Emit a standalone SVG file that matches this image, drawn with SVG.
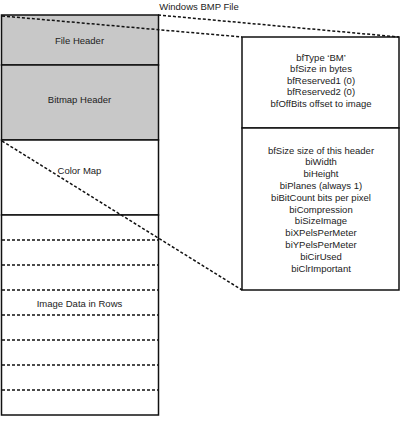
<svg xmlns="http://www.w3.org/2000/svg" width="401" height="429" viewBox="0 0 401 429">
<style>
text{font-family:"Liberation Sans",Arial,sans-serif;font-size:9.5px;fill:#222;text-anchor:middle}
.box{stroke:#111;stroke-width:1.5;fill:#fff}
.gray{fill:#c8c8c8}
.row{stroke:#111;stroke-width:1.5;stroke-dasharray:3,2}
.conn{stroke:#111;stroke-width:1.5;stroke-dasharray:3,2;fill:none}
</style>
<rect width="401" height="429" fill="#fff"/>
<g id="title"><text x="199" y="9.5">Windows BMP File</text></g>
<g id="file-header">
<rect class="box gray" x="1.5" y="15" width="157" height="50"/>
<text x="79.5" y="43.5">File Header</text>
</g>
<g id="bitmap-header">
<rect class="box gray" x="1.5" y="65" width="157" height="75"/>
<text x="79.5" y="102.5">Bitmap Header</text>
</g>
<g id="color-map">
<rect class="box" x="1.5" y="140" width="157" height="75"/>
<text x="79.5" y="173.5">Color Map</text>
</g>
<g id="image-data">
<rect class="box" x="1.5" y="215" width="157" height="200"/>
<line class="row" x1="2" y1="240" x2="158" y2="240"/>
<line class="row" x1="2" y1="265" x2="158" y2="265"/>
<line class="row" x1="2" y1="290" x2="158" y2="290"/>
<line class="row" x1="2" y1="315" x2="158" y2="315"/>
<line class="row" x1="2" y1="340" x2="158" y2="340"/>
<line class="row" x1="2" y1="365" x2="158" y2="365"/>
<line class="row" x1="2" y1="390" x2="158" y2="390"/>
<text x="79.5" y="306.5">Image Data in Rows</text>
</g>
<g id="file-header-detail">
<rect class="box" x="242" y="37" width="157" height="91"/>
<text x="321" y="60.5">bfType ‘BM’</text>
<text x="321" y="72">bfSize in bytes</text>
<text x="321" y="83.5">bfReserved1 (0)</text>
<text x="321" y="95">bfReserved2 (0)</text>
<text x="321" y="106.5">bfOffBits offset to image</text>
</g>
<g id="bitmap-header-detail">
<rect class="box" x="242" y="128" width="157" height="162"/>
<text x="321" y="153.5">bfSize size of this header</text>
<text x="321" y="165.3">biWidth</text>
<text x="321" y="177.1">biHeight</text>
<text x="321" y="188.9">biPlanes (always 1)</text>
<text x="321" y="200.7">biBitCount bits per pixel</text>
<text x="321" y="212.5">biCompression</text>
<text x="321" y="224.3">biSizeImage</text>
<text x="321" y="236.1">biXPelsPerMeter</text>
<text x="321" y="247.9">biYPelsPerMeter</text>
<text x="321" y="259.7">biCirUsed</text>
<text x="321" y="271.5">biClrImportant</text>
</g>
<g id="connectors">
<line class="conn" x1="2" y1="16" x2="242" y2="37"/>
<line class="conn" x1="158" y1="15" x2="399" y2="37"/>
<line class="conn" x1="2" y1="141" x2="242" y2="290"/>
</g>
</svg>
